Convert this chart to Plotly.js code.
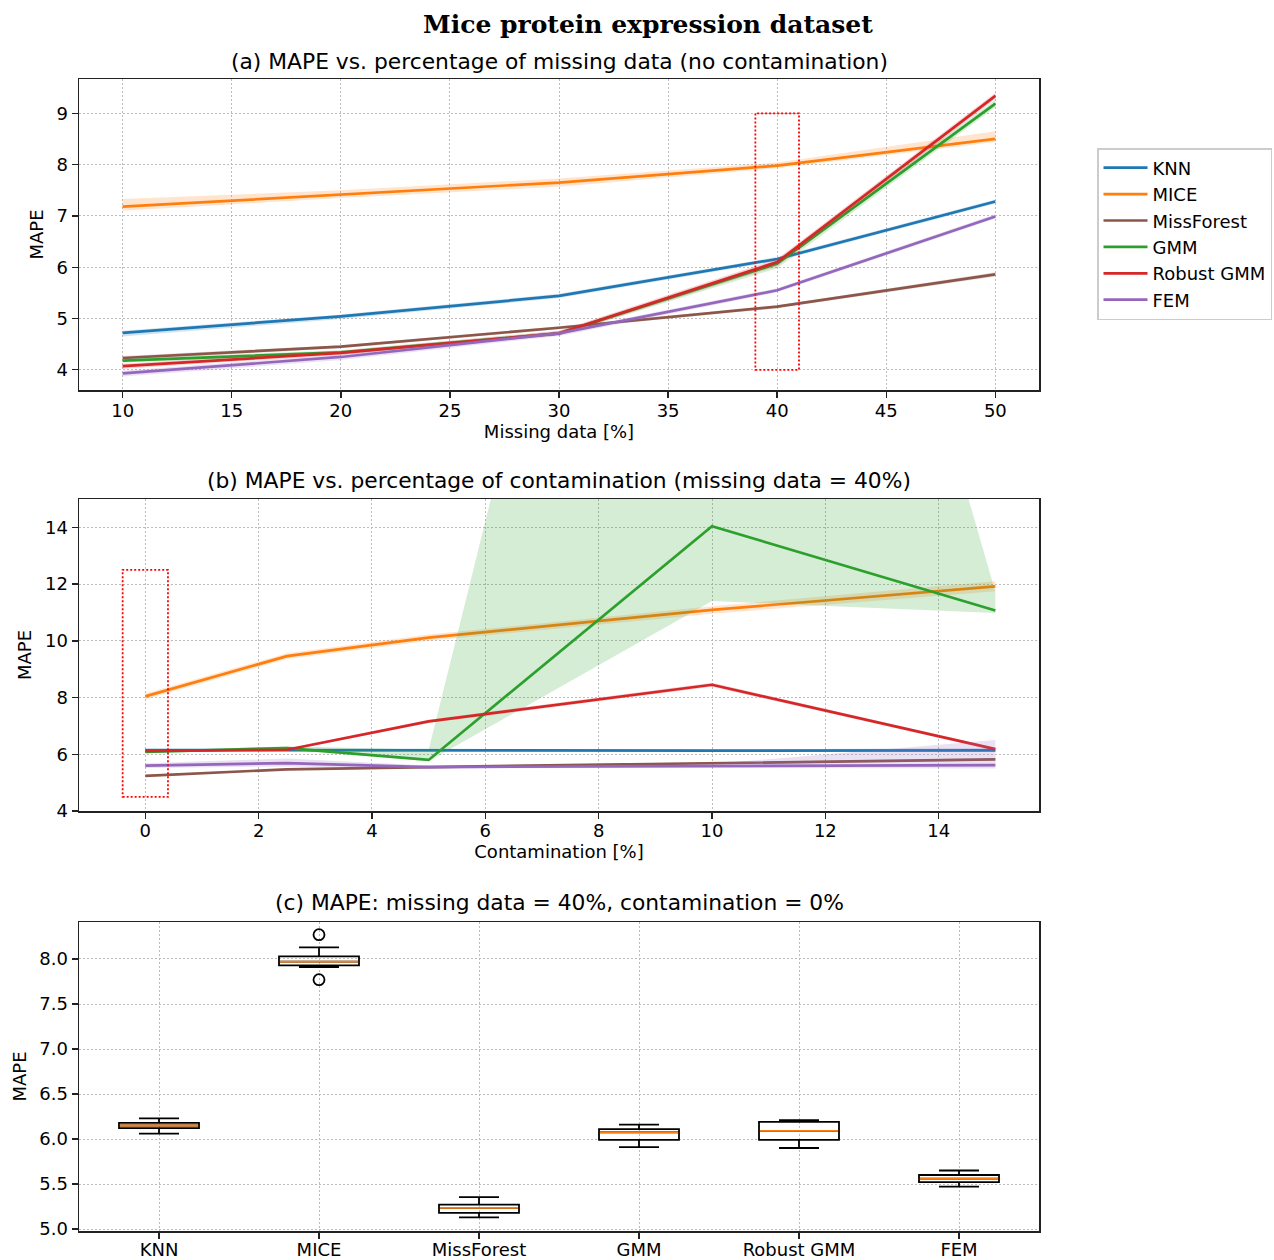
<!DOCTYPE html>
<html>
<head>
<meta charset="utf-8">
<script src="https://cdn.plot.ly/plotly-3.0.1.min.js"></script>
<style>
html,body{margin:0;padding:0;background:#fff;}
#chart{width:1274px;height:1260px;}
</style>
</head>
<body>
<div id="chart"></div>
<script>
// ---------------- DATA ----------------
const methods = ["KNN", "MICE", "MissForest", "GMM", "Robust GMM", "FEM"];
const colors = ["#1f77b4", "#ff7f0e", "#8c564b", "#2ca02c", "#d62728", "#9467bd"];
const bandColors = ["rgba(31,119,180,0.2)", "rgba(255,127,14,0.2)", "rgba(140,86,75,0.2)",
                    "rgba(44,160,44,0.2)", "rgba(214,39,40,0.2)", "rgba(148,103,189,0.2)"];

// (a) MAPE vs missing data
const missingPct = [10, 20, 30, 40, 50];
const aKNN        = [4.72, 5.04, 5.44, 6.16, 7.28];
const aKNNLo      = [4.65, 4.99, 5.40, 6.12, 7.24];
const aKNNHi      = [4.76, 5.08, 5.48, 6.20, 7.32];
const aMICE       = [7.18, 7.41, 7.65, 7.98, 8.50];
const aMICELo     = [7.10, 7.35, 7.57, 7.93, 8.44];
const aMICEHi     = [7.33, 7.50, 7.73, 8.04, 8.65];
const aMF         = [4.23, 4.45, 4.82, 5.23, 5.86];
const aMFLo       = [4.19, 4.42, 4.79, 5.20, 5.82];
const aMFHi       = [4.27, 4.48, 4.85, 5.26, 5.90];
const aGMM        = [4.18, 4.34, 4.71, 6.07, 9.19];
const aGMMLo      = [4.14, 4.30, 4.67, 5.98, 9.12];
const aGMMHi      = [4.22, 4.38, 4.75, 6.12, 9.26];
const aRGMM       = [4.07, 4.33, 4.71, 6.10, 9.34];
const aRGMMLo     = [4.02, 4.29, 4.67, 6.02, 9.28];
const aRGMMHi     = [4.12, 4.37, 4.76, 6.16, 9.40];
const aFEM        = [3.93, 4.25, 4.71, 5.55, 6.99];
const aFEMLo      = [3.87, 4.19, 4.66, 5.51, 6.95];
const aFEMHi      = [3.98, 4.30, 4.75, 5.59, 7.03];

// (b) MAPE vs contamination (missing = 40%)
const contamPct = [0, 2.5, 5, 10, 15];
const bKNN        = [6.15, 6.14, 6.13, 6.13, 6.14];
const bKNNLo      = [6.11, 6.10, 6.10, 6.10, 6.08];
const bKNNHi      = [6.19, 6.18, 6.17, 6.17, 6.22];
const bMICE       = [8.04, 9.46, 10.11, 11.09, 11.92];
const bMICELo     = [7.94, 9.36, 10.00, 10.95, 11.75];
const bMICEHi     = [8.14, 9.56, 10.22, 11.22, 12.10];
const bMF         = [5.24, 5.47, 5.55, 5.68, 5.82];
const bMFLo       = [5.21, 5.44, 5.52, 5.65, 5.78];
const bMFHi       = [5.27, 5.50, 5.58, 5.71, 5.86];
const bGMM        = [6.08, 6.22, 5.80, 14.04, 11.07];
const bGMMLo      = [6.04, 6.16, 5.75, 11.40, 10.98];
const bGMMHi      = [6.12, 6.28, 6.16, 46.40, 11.72];
const bRGMM       = [6.12, 6.16, 7.16, 8.45, 6.18];
const bRGMMLo     = [6.08, 6.12, 7.10, 8.38, 6.13];
const bRGMMHi     = [6.16, 6.20, 7.22, 8.52, 6.23];
const bFEM        = [5.60, 5.69, 5.55, 5.59, 5.62];
const bFEMLo      = [5.52, 5.57, 5.50, 5.52, 5.50];
const bFEMHi      = [5.68, 5.85, 5.60, 5.66, 6.50];

// (c) box statistics: missing = 40%, contamination = 0%
const boxLowerFence = [6.06, 7.91, 5.13, 5.91, 5.90, 5.47];
const boxQ1         = [6.12, 7.93, 5.18, 5.99, 5.99, 5.52];
const boxMedian     = [6.15, 7.97, 5.235, 6.075, 6.09, 5.56];
const boxQ3         = [6.18, 8.03, 5.27, 6.11, 6.19, 5.60];
const boxUpperFence = [6.23, 8.13, 5.355, 6.16, 6.21, 5.65];
const outlierMethod = ["MICE", "MICE"];
const outlierValue  = [8.27, 7.77];

// highlighted regions (dotted red boxes)
const highlightA = {x0: 39, x1: 41, y0: 4, y1: 9};
const highlightB = {x0: -0.4, x1: 0.4, y0: 4.5, y1: 12.5};

// ---------------- BUILD ----------------
const aMean = [aKNN, aMICE, aMF, aGMM, aRGMM, aFEM];
const aLo = [aKNNLo, aMICELo, aMFLo, aGMMLo, aRGMMLo, aFEMLo];
const aHi = [aKNNHi, aMICEHi, aMFHi, aGMMHi, aRGMMHi, aFEMHi];
const bMean = [bKNN, bMICE, bMF, bGMM, bRGMM, bFEM];
const bLo = [bKNNLo, bMICELo, bMFLo, bGMMLo, bRGMMLo, bFEMLo];
const bHi = [bKNNHi, bMICEHi, bMFHi, bGMMHi, bRGMMHi, bFEMHi];

const traces = [];
function addSeries(xs, mean, lo, hi, i, xa, ya, legend) {
  traces.push({
    type: "scatter", mode: "lines", xaxis: xa, yaxis: ya,
    x: xs.concat(xs.slice().reverse()),
    y: hi.concat(lo.slice().reverse()),
    fill: "toself", fillcolor: bandColors[i],
    line: {width: 0, color: bandColors[i]},
    showlegend: false, hoverinfo: "skip"
  });
  traces.push({
    type: "scatter", mode: "lines", xaxis: xa, yaxis: ya,
    x: xs, y: mean, name: methods[i],
    line: {color: colors[i], width: 2.7},
    showlegend: legend, legendgroup: methods[i]
  });
}
for (let i = 0; i < methods.length; i++) addSeries(missingPct, aMean[i], aLo[i], aHi[i], i, "x", "y", true);
for (let i = 0; i < methods.length; i++) addSeries(contamPct, bMean[i], bLo[i], bHi[i], i, "x2", "y2", false);

traces.push({
  type: "box", xaxis: "x3", yaxis: "y3", x: methods,
  q1: boxQ1, median: boxMedian, q3: boxQ3,
  lowerfence: boxLowerFence, upperfence: boxUpperFence,
  line: {color: "#000000", width: 1.8}, fillcolor: "rgba(0,0,0,0)",
  width: 0.5, whiskerwidth: 0.5, boxpoints: false, showlegend: false, hoverinfo: "y"
});
traces.push({
  type: "box", xaxis: "x3", yaxis: "y3", x: methods,
  q1: boxMedian, median: boxMedian, q3: boxMedian,
  lowerfence: boxMedian, upperfence: boxMedian,
  line: {color: "#ff7f0e", width: 1.8}, fillcolor: "rgba(0,0,0,0)",
  width: 0.49, whiskerwidth: 0, boxpoints: false, showlegend: false, hoverinfo: "skip"
});
traces.push({
  type: "scatter", mode: "markers", xaxis: "x3", yaxis: "y3",
  x: outlierMethod, y: outlierValue,
  marker: {symbol: "circle-open", size: 11, color: "#000000", line: {width: 1.8, color: "#000000"}},
  showlegend: false
});

// ---------------- LAYOUT ----------------
const W = 1274, H = 1260;
const fx = p => p / W;
const fy = p => 1 - p / H;
const font = "DejaVu Sans, Liberation Sans, sans-serif";
const gridDash = "1.5px,2.5px";

function axis(extra) {
  return Object.assign({
    showline: true, mirror: true, linecolor: "#222222", linewidth: 1.5,
    ticks: "outside", ticklen: 6, tickwidth: 1.4, tickcolor: "#222222",
    showgrid: true, gridcolor: "#bcbcbc", griddash: gridDash, gridwidth: 1,
    zeroline: false, tickfont: {family: font, size: 18, color: "#000"},
    automargin: false
  }, extra);
}
const titleFont = {family: font, size: 18, color: "#000"};

const xDom = [fx(79), fx(1039)];
const layout = {
  width: W, height: H,
  margin: {l: 0, r: 0, t: 0, b: 0},
  paper_bgcolor: "#ffffff", plot_bgcolor: "#ffffff",
  font: {family: font, size: 18, color: "#000"},
  showlegend: true,
  boxmode: "overlay",
  legend: {
    x: fx(1097), y: fy(148), xanchor: "left", yanchor: "top",
    bgcolor: "#ffffff", bordercolor: "#cccccc", borderwidth: 1.5,
    font: {family: font, size: 18, color: "#000"},
    traceorder: "normal", itemwidth: 44
  },
  xaxis: axis({domain: xDom, range: [8, 52], tickvals: [10, 15, 20, 25, 30, 35, 40, 45, 50], anchor: "y",
    ticklabelstandoff: -2,
    title: {text: "Missing data [%]", font: titleFont, standoff: 4}}),
  yaxis: axis({domain: [fy(390), fy(79)], range: [3.606, 9.669], dtick: 1, anchor: "x",
    title: {text: "MAPE", font: titleFont, standoff: 8}}),
  xaxis2: axis({domain: xDom, range: [-1.17, 15.77], dtick: 2, tick0: 0, anchor: "y2",
    ticklabelstandoff: -3,
    title: {text: "Contamination [%]", font: titleFont, standoff: 4}}),
  yaxis2: axis({domain: [fy(811), fy(499)], range: [4, 15], dtick: 2, tick0: 0, anchor: "x2",
    title: {text: "MAPE", font: titleFont, standoff: 8}}),
  xaxis3: axis({domain: xDom, type: "category", range: [-0.5, 5.5], anchor: "y3",
    ticklabelstandoff: -4}),
  yaxis3: axis({domain: [fy(1231), fy(922)], range: [4.978, 8.411], dtick: 0.5, tick0: 0, tickformat: ".1f", anchor: "x3",
    title: {text: "MAPE", font: titleFont, standoff: 8}}),
  shapes: [
    {type: "rect", xref: "x", yref: "y", x0: highlightA.x0, x1: highlightA.x1, y0: highlightA.y0, y1: highlightA.y1,
     line: {color: "#ff0000", width: 1.8, dash: "2px,2px"}, fillcolor: "rgba(0,0,0,0)"},
    {type: "rect", xref: "x2", yref: "y2", x0: highlightB.x0, x1: highlightB.x1, y0: highlightB.y0, y1: highlightB.y1,
     line: {color: "#ff0000", width: 1.8, dash: "2px,2px"}, fillcolor: "rgba(0,0,0,0)"}
  ],
  annotations: [
    {text: "<b>Mice protein expression dataset</b>", xref: "paper", yref: "paper", x: fx(648), y: fy(24),
     xanchor: "center", yanchor: "middle", showarrow: false,
     font: {family: "DejaVu Serif, Liberation Serif, serif", size: 25, color: "#000"}},
    {text: "(a) MAPE vs. percentage of missing data (no contamination)", xref: "paper", yref: "paper",
     x: fx(559), y: fy(61), xanchor: "center", yanchor: "middle", showarrow: false,
     font: {family: font, size: 21.8, color: "#000"}},
    {text: "(b) MAPE vs. percentage of contamination (missing data = 40%)", xref: "paper", yref: "paper",
     x: fx(559), y: fy(481), xanchor: "center", yanchor: "middle", showarrow: false,
     font: {family: font, size: 21.8, color: "#000"}},
    {text: "(c) MAPE: missing data = 40%, contamination = 0%", xref: "paper", yref: "paper",
     x: fx(559), y: fy(902), xanchor: "center", yanchor: "middle", showarrow: false,
     font: {family: font, size: 21.8, color: "#000"}}
  ]
};

Plotly.newPlot("chart", traces, layout, {staticPlot: true, displayModeBar: false});
</script>
</body>
</html>
